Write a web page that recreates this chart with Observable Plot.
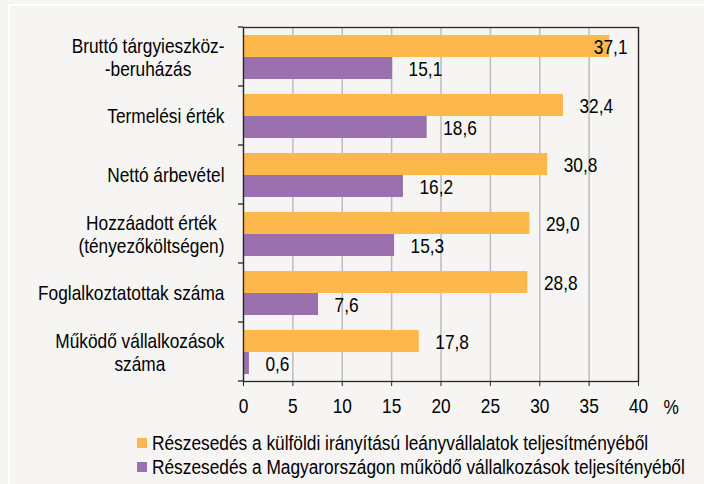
<!DOCTYPE html>
<html><head><meta charset="utf-8">
<script src="https://cdn.jsdelivr.net/npm/d3@7"></script>
<script src="https://cdn.jsdelivr.net/npm/@observablehq/plot@0.6"></script>
<style>
html,body{margin:0;padding:0;background:#f6f5f3;}
#wrap{position:relative;width:704px;height:484px;overflow:hidden;background:#f6f5f3;font-family:"Liberation Sans",Arial,sans-serif;color:#000;}
#edge{position:absolute;left:8px;top:4px;right:0;bottom:0;border-top:2px solid #fff;border-left:2px solid #fff;}
#chart{position:absolute;left:0;top:0;}
#legend{position:absolute;left:137px;top:431px;font-size:20px;line-height:24px;}
.item{display:flex;align-items:center;white-space:nowrap;}
.sw{width:10px;height:10px;margin-right:5px;flex:none;}
.lt{display:inline-block;transform:scaleX(0.865);transform-origin:0 50%;}
</style></head>
<body>
<div id="wrap"><div id="edge"></div><div id="chart"></div><div id="legend"></div></div>
<script>
const categories = [
  "Bruttó tárgyieszköz-\n-beruházás",
  "Termelési érték",
  "Nettó árbevétel",
  "Hozzáadott érték\n(tényezőköltségen)",
  "Foglalkoztatottak száma",
  "Működő vállalkozások\nszáma"
];
const seriesNames = [
  "Részesedés a külföldi irányítású leányvállalatok teljesítményéből",
  "Részesedés a Magyarországon működő vállalkozások teljesítényéből"
];
const foreignShare = [37.1, 32.4, 30.8, 29.0, 28.8, 17.8];
const domesticShare = [15.1, 18.6, 16.2, 15.3, 7.6, 0.6];
const xTicks = [0, 5, 10, 15, 20, 25, 30, 35, 40];
const colors = ["#fdb84b", "#9b70ae"];

const rows = [];
categories.forEach((c, i) => {
  rows.push({category: c, series: seriesNames[0], value: foreignShare[i]});
  rows.push({category: c, series: seriesNames[1], value: domesticShare[i]});
});
const fmt = v => v.toFixed(1).replace(".", ",");
const font = '"Liberation Sans",Arial,sans-serif';
const squeeze = 0.865;

const chart = Plot.plot({
  width: 704, height: 425,
  marginLeft: 243, marginRight: 66, marginTop: 25, marginBottom: 43,
  style: {background: "transparent", fontFamily: font, fontSize: "20px", color: "#000", overflow: "visible"},
  x: {domain: [0, 40]},
  fy: {domain: categories, padding: 0, label: null},
  y: {domain: seriesNames, paddingInner: 0, paddingOuter: 0.31, axis: null},
  color: {domain: seriesNames, range: colors},
  marks: [
    Plot.gridX(xTicks, {stroke: "#bcbcbc", strokeOpacity: 1, strokeWidth: 1.5}),
    Plot.barX(rows, {x: "value", y: "series", fy: "category", fill: "series"}),
    Plot.text(rows.filter(d => d.value < 35), {x: "value", y: "series", fy: "category", text: d => fmt(d.value), textAnchor: "start", dx: 16, dy: 1, fill: "#000"}),
    Plot.text(rows.filter(d => d.value >= 35), {x: "value", y: "series", fy: "category", text: d => fmt(d.value), textAnchor: "start", dx: -16, dy: 1, fill: "#000"}),
    Plot.frame({facet: "super", stroke: "#262626", strokeWidth: 1.3}),
    Plot.axisX({ticks: xTicks, tickSize: 5, tickPadding: 12, tickFormat: d => String(d), label: null, stroke: "#262626"}),
    Plot.axisFy({anchor: "left", tickSize: 0, tickPadding: 19, label: null, lineHeight: 1.15}),
    Plot.text(["%"], {facet: "super", frameAnchor: "bottom-right", lineAnchor: "middle", text: d => d, textAnchor: "start", dx: 25, dy: 26, fill: "#000"})
  ]
});
document.getElementById("chart").appendChild(chart);
const svg = d3.select(chart.tagName.toLowerCase() === "svg" ? chart : chart.querySelector("svg"));

// boundary ticks on the category axis
const fy = chart.scale("fy");
const x0 = chart.scale("x").apply(0);
const bounds = categories.map(c => fy.apply(c));
bounds.push(fy.apply(categories[categories.length - 1]) + fy.bandwidth);
svg.append("g").attr("stroke", "#262626").attr("stroke-width", 1.3)
  .selectAll("line").data(bounds).join("line")
  .attr("x1", x0 - 5).attr("x2", x0).attr("y1", d => d).attr("y2", d => d);

// center multi-line category labels
svg.selectAll('g[aria-label="fy-axis tick label"] text').each(function() {
  const spans = this.querySelectorAll("tspan");
  if (spans.length > 1) {
    let w = 0;
    spans.forEach(s => { w = Math.max(w, s.getComputedTextLength()); });
    this.setAttribute("text-anchor", "middle");
    spans.forEach(s => s.setAttribute("x", -w / 2));
  }
});

// condensed look of the original typeface
svg.selectAll("text").each(function() {
  let t = this.getAttribute("transform") || "";
  const x = this.getAttribute("x");
  if (x !== null && isFinite(+x) && +x !== 0) {
    t = `translate(${+x},0) ` + t;
    this.removeAttribute("x");
  }
  this.setAttribute("transform", (t + ` scale(${squeeze},1)`).trim());
});

const legend = document.getElementById("legend");
seriesNames.forEach((s, i) => {
  const item = document.createElement("div");
  item.className = "item";
  const sw = document.createElement("span");
  sw.className = "sw"; sw.style.background = colors[i];
  const t = document.createElement("span");
  t.className = "lt";
  t.textContent = s;
  item.appendChild(sw); item.appendChild(t);
  legend.appendChild(item);
});
</script>
</body></html>
